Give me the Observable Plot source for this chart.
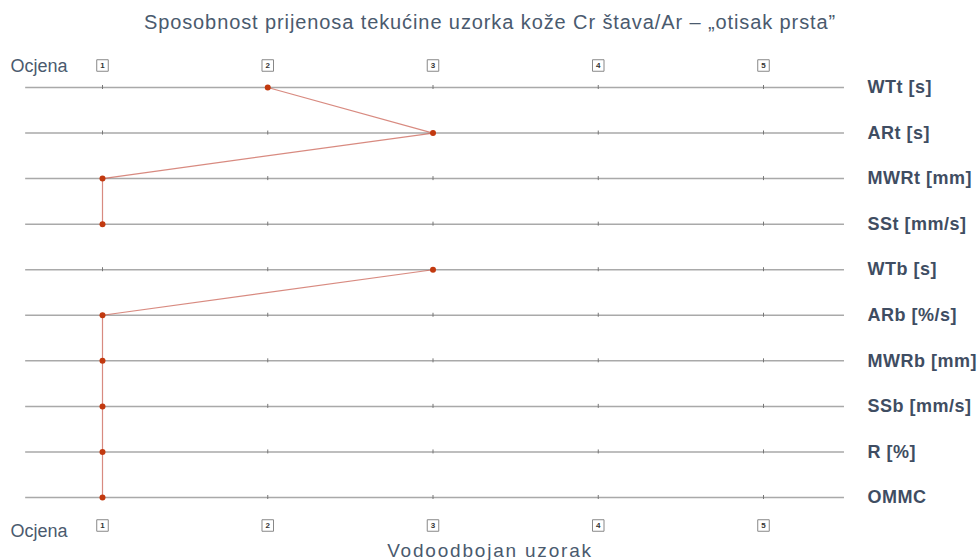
<!DOCTYPE html>
<html>
<head>
<meta charset="utf-8">
<script src="https://cdn.jsdelivr.net/npm/d3@7"></script>
<script src="https://cdn.jsdelivr.net/npm/@observablehq/plot@0.6"></script>
<style>
body { margin: 0; background: #fff; }
svg { font-family: "Liberation Sans", Arial, sans-serif; }
.ttl text { letter-spacing: 0.9px; }
.xlab text { letter-spacing: 1.8px; }
.rowlab text { letter-spacing: 0.5px; }
</style>
</head>
<body>
<div id="chart"></div>
<script>
const title = "Sposobnost prijenosa tekućine uzorka kože Cr štava/Ar – „otisak prsta”";
const xLabel = "Vodoodbojan uzorak";
const sideLabel = "Ocjena";
const criteria = ["WTt [s]", "ARt [s]", "MWRt [mm]", "SSt [mm/s]", "WTb [s]", "ARb [%/s]", "MWRb [mm]", "SSb [mm/s]", "R [%]", "OMMC"];
const grades = [2, 3, 1, 1, 3, 1, 1, 1, 1, 1];
const segments = ["t", "t", "t", "t", "b", "b", "b", "b", "b", "b"];
const gradeTicks = [1, 2, 3, 4, 5];

const data = criteria.map((c, i) => ({criterion: c, grade: grades[i], segment: segments[i]}));
const grid = criteria.flatMap(c => gradeTicks.map(g => ({criterion: c, grade: g})));

const textColor = "#4a5a6e";
const labelColor = "#3f4d62";

const yTop = 87, yBottom = 497;
const step = (yBottom - yTop) / (criteria.length - 1);
const tickInset = step / 2 - 2;

const chart = Plot.plot({
  width: 979,
  height: 560,
  marginTop: 0, marginBottom: 0, marginLeft: 0, marginRight: 0,
  x: {domain: [1, 5], range: [102, 763], axis: null},
  y: {type: "band", domain: criteria, range: [yTop - step / 2, yBottom + step / 2], padding: 0, round: false, axis: null},
  marks: [
    Plot.ruleY(criteria, {y: d => d, x1: 0.535, x2: 5.49, stroke: "#a9a9a9", strokeWidth: 1.5}),
    Plot.tickX(grid, {x: "grade", y: "criterion", stroke: "#777", strokeWidth: 1, insetTop: tickInset, insetBottom: tickInset}),
    Plot.line(data, {x: "grade", y: "criterion", z: "segment", stroke: "#c8594a", strokeOpacity: 0.7, strokeWidth: 1.2}),
    Plot.dot(data, {x: "grade", y: "criterion", r: 3, fill: "#c2390f", stroke: "none"}),
    Plot.text(criteria, {x: () => 5.49, y: d => d, text: d => d, dx: 23, textAnchor: "start", fontWeight: "bold", fontSize: 18, fill: labelColor, className: "rowlab"}),
    Plot.dot(gradeTicks, {x: d => d, frameAnchor: "top", dy: 65, symbol: "square", r: 6.5, fill: "#fff", stroke: "#888", strokeWidth: 1}),
    Plot.text(gradeTicks, {x: d => d, text: d => String(d), frameAnchor: "top", lineAnchor: "middle", dy: 65, fontSize: 8, fontWeight: "bold", fill: "#333"}),
    Plot.dot(gradeTicks, {x: d => d, frameAnchor: "top", dy: 525, symbol: "square", r: 6.5, fill: "#fff", stroke: "#888", strokeWidth: 1}),
    Plot.text(gradeTicks, {x: d => d, text: d => String(d), frameAnchor: "top", lineAnchor: "middle", dy: 525, fontSize: 8, fontWeight: "bold", fill: "#333"}),
    Plot.text([sideLabel], {frameAnchor: "top-left", lineAnchor: "middle", dx: 10, dy: 66, text: d => d, fontSize: 18, fill: textColor}),
    Plot.text([sideLabel], {frameAnchor: "top-left", lineAnchor: "middle", dx: 10, dy: 531, text: d => d, fontSize: 18, fill: textColor}),
    Plot.text([title], {frameAnchor: "top", lineAnchor: "middle", dy: 22, text: d => d, fontSize: 20, fill: textColor, className: "ttl"}),
    Plot.text([xLabel], {frameAnchor: "top", lineAnchor: "middle", dy: 550, text: d => d, fontSize: 19, fill: textColor, className: "xlab"})
  ]
});
document.getElementById("chart").appendChild(chart);
</script>
</body>
</html>
